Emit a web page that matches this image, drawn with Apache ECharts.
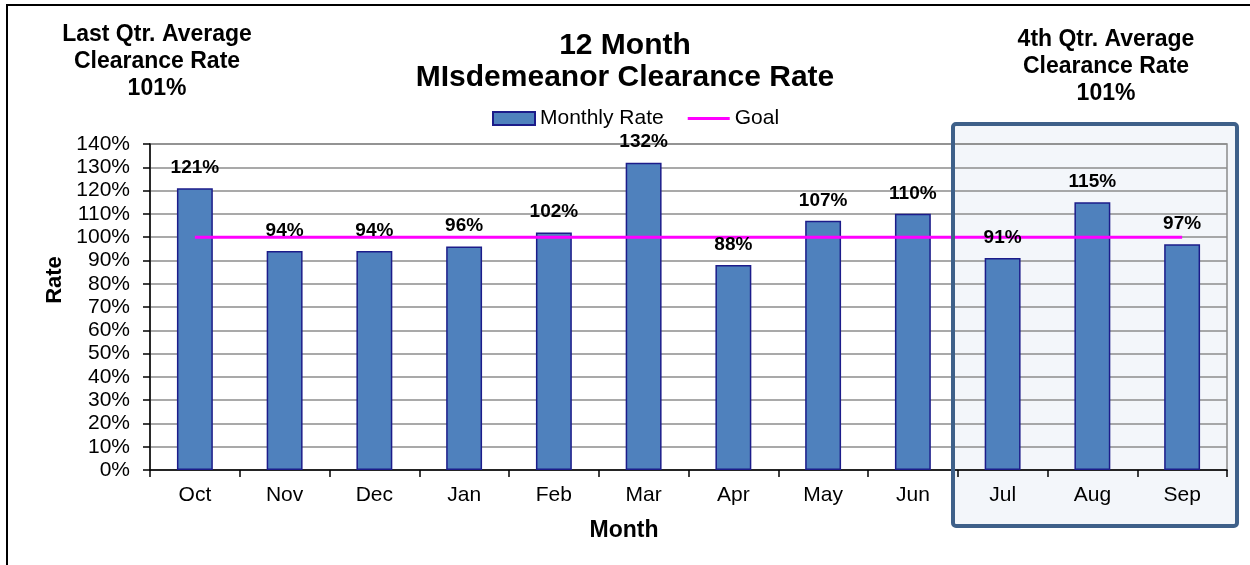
<!DOCTYPE html>
<html>
<head>
<meta charset="utf-8">
<script src="https://cdn.jsdelivr.net/npm/echarts@6/dist/echarts.min.js"></script>
<style>
  html, body { margin: 0; padding: 0; background: #fff; }
  #chart { width: 1250px; height: 565px; }
</style>
</head>
<body>
<div id="chart"></div>
<script>
  // data
  var months = ['Oct', 'Nov', 'Dec', 'Jan', 'Feb', 'Mar', 'Apr', 'May', 'Jun', 'Jul', 'Aug', 'Sep'];
  var monthlyRate = [121, 94, 94, 96, 102, 132, 88, 107, 110, 91, 115, 97];
  var goalRate = [100, 100, 100, 100, 100, 100, 100, 100, 100, 100, 100, 100];
  var lastQtrAvg = 101;
  var fourthQtrAvg = 101;

  var font = 'Liberation Sans, Arial, sans-serif';

  var chart = echarts.init(document.getElementById('chart'));

  var option = {
    animation: false,
    backgroundColor: '#fff',
    textStyle: { fontFamily: font },
    title: [
      {
        text: '12 Month\nMIsdemeanor Clearance Rate',
        left: 620, top: 25, textAlign: 'center',
        textStyle: { fontFamily: font, fontSize: 30, fontWeight: 'bold', color: '#000', lineHeight: 32 }
      },
      {
        text: 'Last Qtr. Average\nClearance Rate\n' + lastQtrAvg + '%',
        left: 152, top: 16, textAlign: 'center',
        textStyle: { fontFamily: font, fontSize: 23, fontWeight: 'bold', color: '#000', lineHeight: 27 }
      },
      {
        text: '4th Qtr. Average\nClearance Rate\n' + fourthQtrAvg + '%',
        left: 1101, top: 21, textAlign: 'center',
        textStyle: { fontFamily: font, fontSize: 23, fontWeight: 'bold', color: '#000', lineHeight: 27 }
      }
    ],
    legend: {
      data: [
        { name: 'Monthly Rate', icon: 'rect' },
        { name: 'Goal', icon: 'path://M0,0 L42,0 L42,3 L0,3 Z' }
      ],
      left: 487, top: 103,
      itemWidth: 42, itemHeight: 13, itemGap: 24,
      textStyle: { fontFamily: font, fontSize: 21, color: '#000' }
    },
    grid: {
      left: 150, right: 23, top: 144, bottom: 95,
      show: true, backgroundColor: 'transparent',
      borderColor: '#8c8c8c', borderWidth: 1.5
    },
    xAxis: {
      type: 'category',
      data: months,
      axisLine: { lineStyle: { color: '#000', width: 1.5 } },
      axisTick: { show: true, length: 7, lineStyle: { color: '#000', width: 1.5 } },
      axisLabel: { fontFamily: font, fontSize: 21, color: '#000', margin: 15 }
    },
    yAxis: {
      type: 'value',
      min: 0, max: 140, interval: 10,
      axisLine: { show: true, lineStyle: { color: '#000', width: 1.5 } },
      axisTick: { show: true, length: 7, lineStyle: { color: '#000', width: 1.5 } },
      axisLabel: { fontFamily: font, fontSize: 21, color: '#000', margin: 20, formatter: '{value}%' },
      splitLine: { lineStyle: { color: '#8c8c8c', width: 1.5 } }
    },
    series: [
      {
        name: 'Monthly Rate',
        type: 'bar',
        data: monthlyRate,
        barWidth: '40%',
        barGap: '-100%',
        z: 2,
        itemStyle: { color: '#4f81bd', borderColor: '#1c1c8a', borderWidth: 1.5 }
      },
      {
        name: 'Goal',
        type: 'line',
        data: goalRate,
        symbol: 'none',
        z: 3,
        lineStyle: { color: '#ff00ff', width: 3 },
        itemStyle: { color: '#ff00ff' }
      },
      {
        // value labels, kept above the goal line
        name: 'labels',
        type: 'bar',
        data: monthlyRate,
        barWidth: '40%',
        barGap: '-100%',
        z: 4,
        itemStyle: { color: 'transparent' },
        label: {
          show: true, position: 'top', distance: 11,
          formatter: '{c}%',
          fontFamily: font, fontSize: 19, fontWeight: 'bold', color: '#000'
        }
      }
    ],
    graphic: [
      // outer frame
      { type: 'rect', shape: { x: 7, y: 5, width: 1300, height: 700 }, style: { fill: 'none', stroke: '#000', lineWidth: 2 }, z: 10 },
      // 4th quarter highlight box
      { type: 'rect', shape: { x: 953, y: 124, width: 284, height: 402, r: 3 }, style: { fill: '#f3f6fa' }, z: -1 },
      { type: 'rect', shape: { x: 953, y: 124, width: 284, height: 402, r: 3 }, style: { fill: 'none', stroke: '#3e6089', lineWidth: 4 }, z: 10 },
      // axis names
      { type: 'text', x: 55, y: 280, rotation: Math.PI / 2,
        style: { text: 'Rate', font: 'bold 22px ' + font, fill: '#000', textAlign: 'center', textVerticalAlign: 'middle' }, z: 10 },
      { type: 'text', x: 624, y: 531,
        style: { text: 'Month', font: 'bold 23px ' + font, fill: '#000', textAlign: 'center', textVerticalAlign: 'middle' }, z: 10 }
    ]
  };

  chart.setOption(option);
</script>
</body>
</html>
